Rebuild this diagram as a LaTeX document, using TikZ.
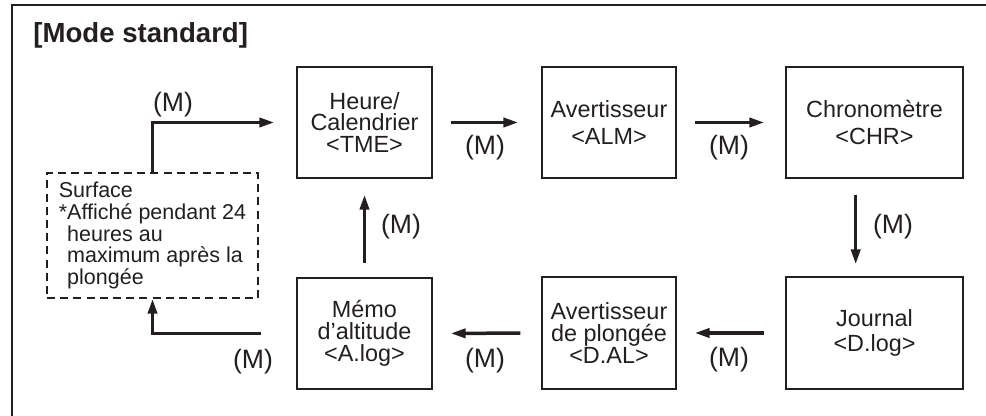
\documentclass[tikz,border=0pt]{standalone}
\usepackage{fontspec}
\setmainfont{Liberation Sans}
\usetikzlibrary{arrows.meta}
\definecolor{ink}{HTML}{231F20}
\tikzset{
  modebox/.style={draw=ink, line width=0.6pt, minimum height=55.5pt, align=center, inner sep=0pt, text=ink},
  surfbox/.style={draw=ink, line width=0.75pt, dash pattern=on 4pt off 2.6pt, minimum width=105.5pt, minimum height=62.5pt, align=left, inner sep=0pt, text=ink, font=\fontsize{10.75}{10.85}\selectfont},
  flow/.style={draw=ink, line width=1.75pt, line join=miter, -{Triangle[length=7.5pt,width=4.5pt]}},
  mlabel/.style={text=ink, font=\fontsize{13.3}{14}\selectfont, inner sep=0pt}
}
\begin{document}
\begin{tikzpicture}[x=0.5pt,y=-0.5pt]
\useasboundingbox (0,0) rectangle (986,416);
% frame
\draw[ink, line width=1pt] (12,430) -- (12,5.5) -- (995,5.5);
% title
\node[anchor=base west, text=ink, font=\fontsize{13.8}{15}\selectfont\bfseries, inner sep=0pt] (title) at (33,43) {[Mode standard]};
% boxes
\node[modebox, minimum width=67.5pt, font=\fontsize{11.7}{10.85}\selectfont] (tme) at (364.5,122.5) {Heure/\\Calendrier\\<TME>};
\node[modebox, minimum width=67pt, font=\fontsize{11.7}{13.85}\selectfont] (alm) at (609,122.5) {Avertisseur\\<ALM>};
\node[modebox, minimum width=88.5pt, font=\fontsize{11.7}{13.85}\selectfont] (chr) at (874.5,122.5) {Chronomètre\\<CHR>};
\node[modebox, minimum width=88.5pt, minimum height=56pt, font=\fontsize{11.7}{12.85}\selectfont] (dlog) at (874.5,333) {Journal\\<D.log>};
\node[modebox, minimum width=67pt, minimum height=56pt, font=\fontsize{11.7}{10.85}\selectfont] (dal) at (609,333) {Avertisseur\\de plongée\\<D.AL>};
\node[modebox, minimum width=67.5pt, minimum height=55.5pt, font=\fontsize{11.7}{10.85}\selectfont] (alog) at (364.5,333.5) {Mémo\\d’altitude\\<A.log>};
\node[surfbox] (surf) at (152.5,235.5) {Surface\\*Affiché pendant 24\\\hphantom{*}heures au\\\hphantom{*}maximum après la\\\hphantom{*}plongée};
% connectors
\draw[flow, shorten <=9pt, shorten >=11.5pt] (tme.east) -- (alm.west);
\draw[flow, shorten <=9pt, shorten >=10.5pt] (alm.east) -- (chr.west);
\draw[flow, shorten <=8pt, shorten >=6pt] ([xshift=-9.4pt]chr.south) -- ([xshift=-9.4pt]dlog.north);
\draw[flow, shorten <=10.5pt, shorten >=9pt] (dlog.west) -- (dal.east);
\draw[flow, shorten <=10.5pt, shorten >=9pt] (dal.west) -- (alog.east);
\draw[flow, shorten <=7pt, shorten >=8pt] (alog.north) -- (tme.south);
\draw[flow] ([xshift=-17.5pt]alog.west) -| (surf.south);
\draw[flow] (surf.north) |- ([xshift=-11pt]tme.west);
% labels
\node[mlabel] (m1) at (485,148) {(M)};
\node[mlabel] (m2) at (729,148) {(M)};
\node[mlabel] (m3) at (893,227) {(M)};
\node[mlabel] (m4) at (729,360) {(M)};
\node[mlabel] (m5) at (485,361) {(M)};
\node[mlabel] (m6) at (253,362) {(M)};
\node[mlabel] (m7) at (401,227) {(M)};
\node[mlabel] (m8) at (173,105) {(M)};
\end{tikzpicture}
\end{document}
